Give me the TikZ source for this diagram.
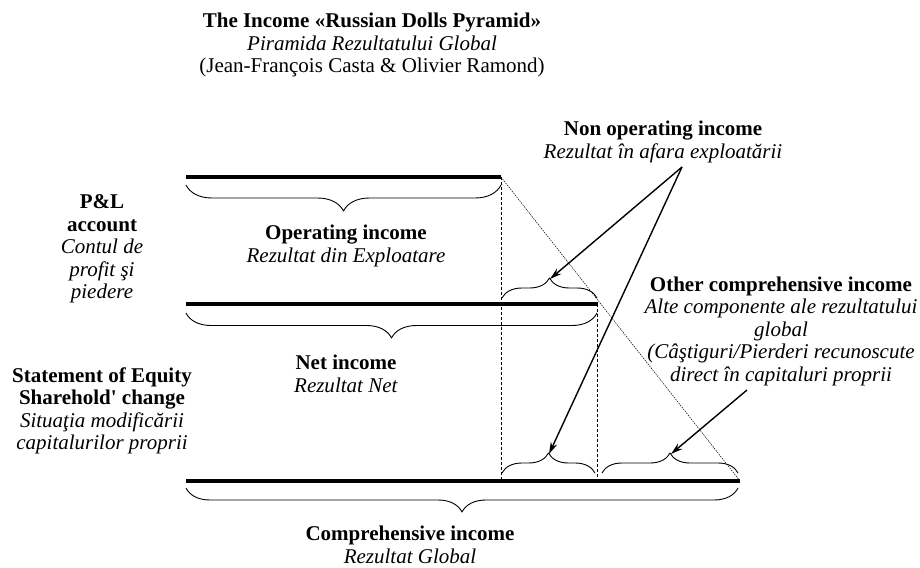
\documentclass[tikz,border=0pt]{standalone}
\usepackage{fontspec}
\setmainfont{Liberation Serif}
\usetikzlibrary{decorations.pathreplacing,arrows.meta}

\tikzset{
  every node/.style={inner sep=0pt,align=center,font=\fontsize{21}{22.5}\selectfont},
  ruleline/.style={line width=4.5pt},
  bracedown/.style={decorate,decoration={brace,mirror,amplitude=#1},line width=0.9pt},
  braceup/.style={decorate,decoration={brace,amplitude=#1},line width=0.9pt},
  guide/.style={line width=0.6pt,dash pattern=on 3pt off 2pt},
  slant/.style={line width=0.5pt,dash pattern=on 1.5pt off 1pt},
  pointer/.style={->,line width=1.4pt}
}

\begin{document}
\begin{tikzpicture}[x=1pt,y=-1pt,>={Stealth[length=12pt,width=7pt]},line join=round]
\useasboundingbox (0,0) rectangle (920,567);

% titles
\node (title) at (372,45) {\textbf{The Income «Russian Dolls Pyramid»}\\ \textit{Piramida Rezultatului Global}\\ (Jean-François Casta \& Olivier Ramond)};
\node (nonop) at (663,142) {\textbf{Non operating income}\\ \textit{Rezultat în afara exploatării}};
\node (pl) at (102,249) {\textbf{P\&L}\\ \textbf{account}\\ \textit{Contul de}\\ \textit{profit şi}\\ \textit{piedere}};
\node (opinc) at (346,246) {\textbf{Operating income}\\ \textit{Rezultat din Exploatare}};
\node (netinc) at (346,374) {\textbf{Net income}\\ \textit{Rezultat Net}};
\node (equity) at (102,411) {\textbf{Statement of Equity}\\ \textbf{Sharehold\textquotesingle{} change}\\ \textit{Situaţia modificării}\\ \textit{capitalurilor proprii}};
\node (oci) at (781,331) {\textbf{Other comprehensive income}\\ \textit{Alte componente ale rezultatului}\\ \textit{global}\\ \textit{(Câştiguri/Pierderi recunoscute}\\ \textit{direct în capitaluri proprii}};
\node (compinc) at (410,545) {\textbf{Comprehensive income}\\ \textit{Rezultat Global}};

% levels of the pyramid
\coordinate (a0) at (186,177); \coordinate (a1) at (501,177);
\coordinate (b0) at (186,304); \coordinate (b1) at (598,304);
\coordinate (c0) at (186,481); \coordinate (c1) at (740,481);
\draw[guide] (a1) -- (a1 |- c0);
\draw[guide] (597,304) -- (597,481);
\draw[slant] (a1) -- (c1);
\draw[ruleline] (a0) -- (a1);
\draw[ruleline] (b0) -- (b1);
\draw[ruleline] (c0) -- (c1);

% braces
\draw[bracedown=26pt] (186,185) -- (501,185);
\draw[bracedown=25pt] (186,313) -- (597,313);
\draw[bracedown=24pt] (186,488) -- (738,488);
\draw[braceup=20pt] (502,298) -- (597,298);
\draw[braceup=20pt] (502,473) -- (595,473);
\draw[braceup=20pt] (602,473) -- (738,473);

% arrows
\coordinate (tipa) at (550,279);
\coordinate (tipb) at (549,454);
\coordinate (tipc) at (671,454);
\coordinate (nsrc) at (682,167);
\coordinate (osrc) at (747,390);
\draw[pointer] (nsrc) -- (tipa);
\draw[pointer] (nsrc) -- (tipb);
\draw[pointer] (osrc) -- (tipc);
\end{tikzpicture}
\end{document}
